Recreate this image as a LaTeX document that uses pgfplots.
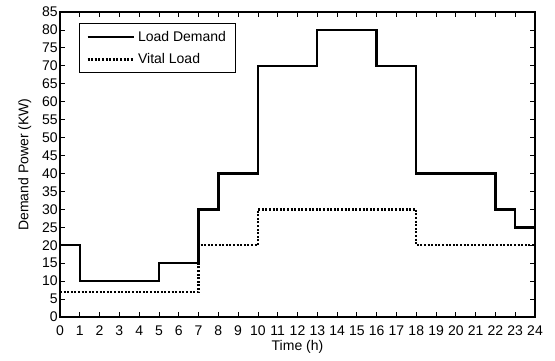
\documentclass[border=0pt]{standalone}
\usepackage{fontspec}
\setmainfont{Liberation Sans}
\usepackage{pgfplots}
\pgfplotsset{compat=1.18}
\begin{document}
\fontsize{10.5}{12}\selectfont
\begin{tikzpicture}
\useasboundingbox (-45pt,-32.25pt) rectangle (371.25pt,237.75pt);
\begin{axis}[
  at={(0,0)}, anchor=south west,
  scale only axis,
  width=356.25pt, height=228.75pt,
  xmin=0, xmax=24, ymin=0, ymax=85,
  xtick={0,1,...,24}, ytick={0,5,...,85},
  tick align=inside,
  tick pos=both,
  major tick length=4pt,
  tick style={black, line width=0.6pt},
  axis line style={line width=1pt},
  /pgf/number format/assume math mode=true,
  ticklabel style={font=\fontsize{10.5}{12}\selectfont},
  xticklabel style={inner sep=0pt, yshift=-6.5pt},
  yticklabel style={inner sep=1.5pt},
  xlabel={Time (h)}, ylabel={Demand Power (KW)},
  label style={font=\fontsize{10.5}{12}\selectfont},
  ylabel style={yshift=3pt},
  legend style={at={(0.04,0.964)}, anchor=north west, draw=black, line width=1pt, font=\fontsize{10.5}{12}\selectfont, inner xsep=5pt, inner ysep=3.5pt, row sep=3.5pt, cells={anchor=west}},
  legend cell align=left,
  legend image code/.code={\draw[#1] (0pt,0pt) -- (35pt,0pt);},
]
\addplot[const plot, black, line width=1.8pt] coordinates {
(0,20) (1,10) (5,15) (7,30) (8,40) (10,70) (13,80) (16,70) (18,40) (22,30) (23,25) (24,25)};
\addlegendentry{Load Demand}
\addplot[const plot, black, line width=1.8pt, dash pattern=on 1.5pt off 1.2pt] coordinates {
(0,7) (7,20) (10,30) (18,20) (24,20)};
\addlegendentry{Vital Load}
\end{axis}
\end{tikzpicture}
\end{document}
